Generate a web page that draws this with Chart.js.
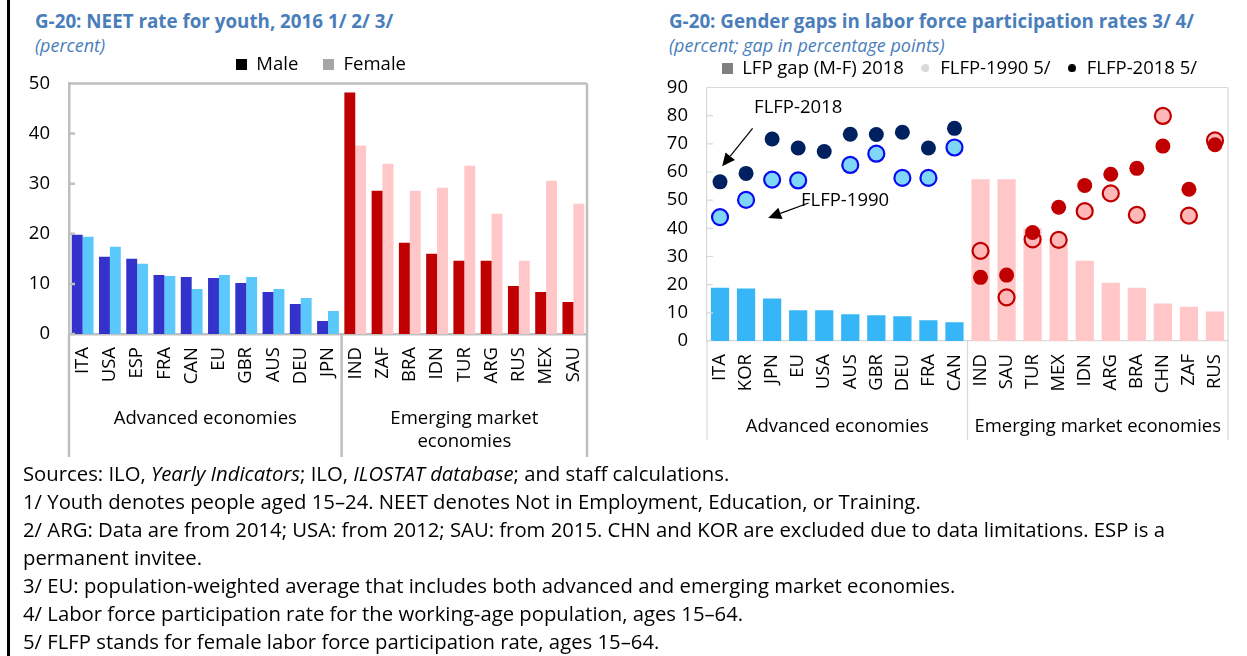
<!DOCTYPE html>
<html>
<head>
<meta charset="utf-8">
<script src="https://cdn.jsdelivr.net/npm/chart.js@4.4.1/dist/chart.umd.min.js"></script>
<style>
  body { margin: 0; width: 1247px; height: 656px; overflow: hidden; background: #fff; position: relative; font-family: "Open Sans", sans-serif; }
  .title { position: absolute; color: #4A7EBB; font-weight: bold; font-size: 18.8px; line-height: 22px; white-space: nowrap; }
  .sub { position: absolute; color: #4A7EBB; font-style: italic; font-size: 18px; line-height: 22px; white-space: nowrap; }
  .notes { position: absolute; left: 23px; top: 459px; font-size: 20.3px; line-height: 28px; color: #000; white-space: nowrap; }
  .rule { position: absolute; left: 7px; top: 0; width: 3px; height: 656px; background: #000; }
  canvas { position: absolute; }
</style>
</head>
<body>
<div class="rule"></div>
<div class="title" style="left:35px;top:10px">G-20: NEET rate for youth, 2016 1/ 2/ 3/</div>
<div class="sub" style="left:35px;top:34px">(percent)</div>
<div class="title" style="left:669px;top:10px">G-20: Gender gaps in labor force participation rates 3/ 4/</div>
<div class="sub" style="left:669px;top:34px">(percent; gap in percentage points)</div>

<canvas id="neet" width="622" height="432" style="left:10px;top:30px"></canvas>
<canvas id="lfp" width="619" height="407" style="left:650px;top:43px"></canvas>

<div class="notes">Sources: ILO, <i>Yearly Indicators</i>; ILO, <i>ILOSTAT database</i>; and staff calculations.<br>
1/ Youth denotes people aged 15–24. NEET denotes Not in Employment, Education, or Training.<br>
2/ ARG: Data are from 2014; USA: from 2012; SAU: from 2015. CHN and KOR are excluded due to data limitations. ESP is a<br>
permanent invitee.<br>
3/ EU: population-weighted average that includes both advanced and emerging market economies.<br>
4/ Labor force participation rate for the working-age population, ages 15–64.<br>
5/ FLFP stands for female labor force participation rate, ages 15–64.</div>

<script>
// left panel: NEET rate, 2016
const neetCountries = ["ITA", "USA", "ESP", "FRA", "CAN", "EU", "GBR", "AUS", "DEU", "JPN",
  "IND", "ZAF", "BRA", "IDN", "TUR", "ARG", "RUS", "MEX", "SAU"];
const neetMale = [19.8, 15.4, 15.0, 11.8, 11.4, 11.2, 10.2, 8.4, 6.0, 2.6,
  48.2, 28.6, 18.2, 16.0, 14.6, 14.6, 9.6, 8.4, 6.4];
const neetFemale = [19.4, 17.4, 14.0, 11.6, 9.0, 11.8, 11.4, 9.0, 7.2, 4.6,
  37.6, 34.0, 28.6, 29.2, 33.6, 24.0, 14.6, 30.6, 26.0];
const neetAdvanced = 10; // first n countries are advanced economies
const neetTicks = [0, 10, 20, 30, 40, 50];

// right panel: gender gaps in LFP
const lfpCountries = ["ITA", "KOR", "JPN", "EU", "USA", "AUS", "GBR", "DEU", "FRA", "CAN",
  "IND", "SAU", "TUR", "MEX", "IDN", "ARG", "BRA", "CHN", "ZAF", "RUS"];
const lfpGap = [18.9, 18.6, 15.1, 10.9, 10.9, 9.5, 9.1, 8.8, 7.4, 6.7,
  57.4, 57.4, 40.0, 35.0, 28.5, 20.7, 18.9, 13.3, 12.2, 10.5];
const flfp1990 = [44.0, 50.1, 57.3, 57.0, null, 62.5, 66.5, 57.9, 57.9, 68.7,
  32.0, 15.5, 36.1, 35.9, 46.1, 52.4, 44.8, 79.9, 44.5, 71.2];
const flfp2018 = [56.5, 59.5, 71.7, 68.5, 67.3, 73.4, 73.3, 74.1, 68.5, 75.5,
  22.6, 23.4, 38.5, 47.5, 55.2, 59.2, 61.3, 69.2, 53.9, 69.7];
const lfpAdvanced = 10;
const lfpTicks = [0, 10, 20, 30, 40, 50, 60, 70, 80, 90];

const groupNames = ["Advanced economies", "Emerging market economies"];

const FONT = "'Open Sans', sans-serif";
const FS = 18.5;
Chart.defaults.font.family = FONT;
Chart.defaults.font.size = FS;
Chart.defaults.color = "#000";
Chart.defaults.animation = false;
Chart.defaults.events = [];

// small canvas used as a legend marker
function marker(shape, color, size) {
  const c = document.createElement("canvas");
  c.width = c.height = size;
  const g = c.getContext("2d");
  g.fillStyle = color;
  if (shape === "rect") g.fillRect(0, 0, size, size);
  else { g.beginPath(); g.arc(size / 2, size / 2, size / 2, 0, Math.PI * 2); g.fill(); }
  return c;
}

function wrap(ctx, text, maxW) {
  const words = text.split(" ");
  const lines = [];
  let cur = "";
  words.forEach((w) => {
    const t = cur ? cur + " " + w : w;
    if (cur && ctx.measureText(t).width > maxW) { lines.push(cur); cur = w; }
    else cur = t;
  });
  lines.push(cur);
  return lines;
}

// box around the plot, group separators and group names under the tick labels
const groupFrame = {
  id: "groupFrame",
  afterDraw(chart, args, o) {
    const { ctx, chartArea: a, scales: { x, y } } = chart;
    const split = (x.getPixelForValue(o.split - 1) + x.getPixelForValue(o.split)) / 2;
    const bottom = a.bottom + o.depth;
    ctx.save();
    ctx.strokeStyle = o.color;
    ctx.lineWidth = o.width;
    ctx.beginPath();
    ctx.moveTo(a.left, a.top); ctx.lineTo(a.right, a.top);
    ctx.moveTo(a.right, a.top); ctx.lineTo(a.right, bottom);
    ctx.moveTo(a.left, a.bottom); ctx.lineTo(a.left, bottom);
    ctx.moveTo(split, a.bottom); ctx.lineTo(split, bottom);
    y.ticks.forEach((t) => {
      const py = y.getPixelForValue(t.value);
      ctx.moveTo(a.left, py); ctx.lineTo(a.left + o.tick, py);
    });
    ctx.stroke();

    ctx.fillStyle = "#000";
    ctx.font = FS + "px " + FONT;
    ctx.textAlign = "center";
    ctx.textBaseline = "middle";
    const spans = [[a.left, split], [split, a.right]];
    groupNames.forEach((name, i) => {
      const [l, r] = spans[i];
      wrap(ctx, name, r - l - 10).forEach((line, j) => {
        ctx.fillText(line, (l + r) / 2, a.bottom + o.labelY + j * o.lineGap);
      });
    });
    ctx.restore();
  },
};

// "FLFP-2018" / "FLFP-1990" callouts with arrows, placed in data units
const callouts = {
  id: "callouts",
  afterDatasetsDraw(chart, args, o) {
    const { ctx, scales: { x, y } } = chart;
    const px = (p) => [x.getPixelForValue(p[0]), y.getPixelForValue(p[1])];
    ctx.save();
    ctx.fillStyle = "#000";
    ctx.strokeStyle = "#000";
    ctx.lineWidth = 1.2;
    ctx.font = FS + "px " + FONT;
    ctx.textAlign = "center";
    ctx.textBaseline = "middle";
    o.items.forEach((it) => {
      const [tx, ty] = px(it.at);
      ctx.fillText(it.text, tx, ty);
      const [x0, y0] = px(it.from);
      const [x1, y1] = px(it.to);
      const ang = Math.atan2(y1 - y0, x1 - x0);
      const len = 13, half = 6;
      const bx = x1 - len * Math.cos(ang), by = y1 - len * Math.sin(ang);
      ctx.beginPath();
      ctx.moveTo(x0, y0); ctx.lineTo(bx, by);
      ctx.stroke();
      ctx.beginPath();
      ctx.moveTo(x1, y1);
      ctx.lineTo(bx + half * Math.sin(ang), by - half * Math.cos(ang));
      ctx.lineTo(bx - half * Math.sin(ang), by + half * Math.cos(ang));
      ctx.closePath();
      ctx.fill();
    });
    ctx.restore();
  },
};

const byGroup = (n, adv, em) => (c) => (c.dataIndex < n ? adv : em);

new Chart(document.getElementById("neet"), {
  type: "bar",
  data: {
    labels: neetCountries,
    datasets: [
      { label: "Male", data: neetMale, backgroundColor: byGroup(neetAdvanced, "#3333CC", "#C00000"),
        barPercentage: 1, categoryPercentage: 0.8 },
      { label: "Female", data: neetFemale, backgroundColor: byGroup(neetAdvanced, "#5BC8FC", "#FFC7C7"),
        barPercentage: 1, categoryPercentage: 0.8 },
    ],
  },
  plugins: [groupFrame],
  options: {
    responsive: false,
    layout: { padding: 0 },
    scales: {
      x: {
        grid: { display: false, drawTicks: false },
        border: { color: "#BFBFBF", width: 2.5 },
        ticks: { autoSkip: false, minRotation: 90, maxRotation: 90, padding: 13 },
        afterFit: (s) => { s.height = 128; },
      },
      y: {
        min: 0, max: 50,
        afterBuildTicks: (s) => { s.ticks = neetTicks.map((v) => ({ value: v })); },
        grid: { display: false, drawTicks: false },
        border: { color: "#BFBFBF", width: 2.5 },
        ticks: { padding: 19 },
        afterFit: (s) => { s.width = 59; },
      },
      pad: {
        position: "right", min: 0, max: 1,
        ticks: { display: false }, grid: { display: false, drawTicks: false }, border: { display: false },
        afterFit: (s) => { s.width = 45; },
      },
    },
    plugins: {
      tooltip: { enabled: false },
      legend: {
        labels: {
          usePointStyle: true, boxWidth: 11, boxHeight: 11, padding: 25,
          generateLabels: () => [
            { text: "Male", pointStyle: marker("rect", "#000", 11), fillStyle: "#000", lineWidth: 0, datasetIndex: 0 },
            { text: "Female", pointStyle: marker("rect", "#A6A6A6", 11), fillStyle: "#A6A6A6", lineWidth: 0, datasetIndex: 1 },
          ],
        },
      },
      groupFrame: { split: neetAdvanced, depth: 123, color: "#BFBFBF", width: 2.5, tick: 6, labelY: 85, lineGap: 23 },
    },
  },
});

new Chart(document.getElementById("lfp"), {
  type: "bar",
  data: {
    labels: lfpCountries,
    datasets: [
      { type: "bar", label: "LFP gap (M-F) 2018", data: lfpGap, order: 3,
        backgroundColor: byGroup(lfpAdvanced, "#36B6F6", "#FFC7C7"),
        barPercentage: 0.7, categoryPercentage: 1 },
      { type: "line", label: "FLFP-1990 5/", data: flfp1990, order: 2, showLine: false,
        pointRadius: 8, pointBorderWidth: 2.2,
        pointBackgroundColor: byGroup(lfpAdvanced, "#7FD6F6", "#FFB8B8"),
        pointBorderColor: byGroup(lfpAdvanced, "#0A0AF0", "#C00000") },
      { type: "line", label: "FLFP-2018 5/", data: flfp2018, order: 1, showLine: false,
        pointRadius: 7.5, pointBorderWidth: 0,
        pointBackgroundColor: byGroup(lfpAdvanced, "#002060", "#C00000"),
        pointBorderColor: byGroup(lfpAdvanced, "#002060", "#C00000") },
    ],
  },
  plugins: [groupFrame, callouts],
  options: {
    responsive: false,
    layout: { padding: 0 },
    scales: {
      x: {
        grid: { display: false, drawTicks: false },
        border: { color: "#D9D9D9", width: 1.2 },
        ticks: { autoSkip: false, minRotation: 90, maxRotation: 90, padding: 13 },
        afterFit: (s) => { s.height = 109; },
      },
      y: {
        min: 0, max: 90,
        afterBuildTicks: (s) => { s.ticks = lfpTicks.map((v) => ({ value: v })); },
        grid: { display: false, drawTicks: false },
        border: { color: "#D9D9D9", width: 1.2 },
        ticks: { padding: 19 },
        afterFit: (s) => { s.width = 57; },
      },
      pad: {
        position: "right", min: 0, max: 1,
        ticks: { display: false }, grid: { display: false, drawTicks: false }, border: { display: false },
        afterFit: (s) => { s.width = 41; },
      },
    },
    plugins: {
      tooltip: { enabled: false },
      legend: {
        labels: {
          usePointStyle: true, boxWidth: 11, boxHeight: 11, padding: 16,
          generateLabels: () => [
            { text: "LFP gap (M-F) 2018", pointStyle: marker("rect", "#808080", 11), lineWidth: 0, datasetIndex: 0 },
            { text: "FLFP-1990 5/", pointStyle: marker("circle", "#D9D9D9", 8), lineWidth: 0, datasetIndex: 1 },
            { text: "FLFP-2018 5/", pointStyle: marker("circle", "#000", 8), lineWidth: 0, datasetIndex: 2 },
          ],
        },
      },
      groupFrame: { split: lfpAdvanced, depth: 99, color: "#D9D9D9", width: 1.2, tick: 6, labelY: 86, lineGap: 23 },
      callouts: {
        items: [
          { text: "FLFP-2018", at: [3, 82.8], from: [1.25, 75.5], to: [0.08, 62] },
          { text: "FLFP-1990", at: [4.8, 49.7], from: [3.4, 49], to: [1.85, 43.7] },
        ],
      },
    },
  },
});
</script>
</body>
</html>
